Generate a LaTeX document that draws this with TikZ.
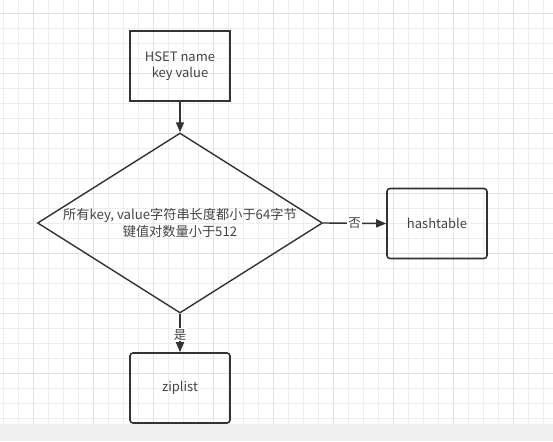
\documentclass[tikz,border=0pt]{standalone}
\usepackage{fontspec}
\setmainfont{Noto Sans CJK SC}
\usetikzlibrary{arrows.meta,shapes.geometric}
\definecolor{gridminor}{HTML}{EDEDED}
\definecolor{gridmajor}{HTML}{E0E0E0}
\definecolor{strip}{HTML}{F0F0F0}
\definecolor{ink}{HTML}{333333}
\definecolor{txt}{HTML}{444444}
\tikzset{
  box/.style={draw=ink, line width=1.6pt, minimum width=100pt, minimum height=70pt, inner sep=0pt, text=txt, font=\fontsize{13}{16.5}\selectfont, align=center},
  rbox/.style={box, rounded corners=3pt},
  decision/.style={draw=ink, line width=1.4pt, diamond, minimum width=285pt, minimum height=180pt, inner sep=0pt, aspect=1.583, text=txt, font=\fontsize{13.2}{16.5}\selectfont, align=center},
  conn/.style={draw=ink, line width=1.4pt, -{Triangle[length=10pt,width=8pt]}},
  lbl/.style={fill=white, inner sep=1pt, text=txt, font=\fontsize{12.5}{14}\selectfont}
}
\begin{document}
\begin{tikzpicture}[x=1pt,y=-1pt]
\useasboundingbox (0,0) rectangle (553,441);
\fill[white] (0,0) rectangle (553,441);
% grid
\foreach \i in {0,...,36} {
  \pgfmathsetmacro{\gx}{3+15*\i}
  \draw[gridminor, line width=0.8pt] (\gx,0) -- (\gx,424);
}
\foreach \i in {0,...,27} {
  \pgfmathsetmacro{\gy}{13+15*\i}
  \draw[gridminor, line width=0.8pt] (0,\gy) -- (553,\gy);
}
\foreach \gx in {33,93,...,553} {
  \draw[gridmajor, line width=0.8pt] (\gx,0) -- (\gx,424);
}
\foreach \gy in {13,73,...,424} {
  \draw[gridmajor, line width=0.8pt] (0,\gy) -- (553,\gy);
}
\fill[strip] (0,424) rectangle (553,441);
% nodes
\node[box] (start) at (180,66) {HSET name\\key value};
\node[decision] (cond) at (180,223) {所有key, value字符串长度都小于64字节\\键值对数量小于512};
\node[rbox] (hash) at (437,223.5) {hashtable};
\node[rbox] (zip) at (180,388) {ziplist};
% connectors
\draw[conn] (start) -- (cond);
\draw[conn] (cond.east) -- node[lbl, pos=0.5] {否} (hash.west);
\draw[conn] (cond.south) -- node[lbl, pos=0.55] {是} (zip.north);
\end{tikzpicture}
\end{document}
